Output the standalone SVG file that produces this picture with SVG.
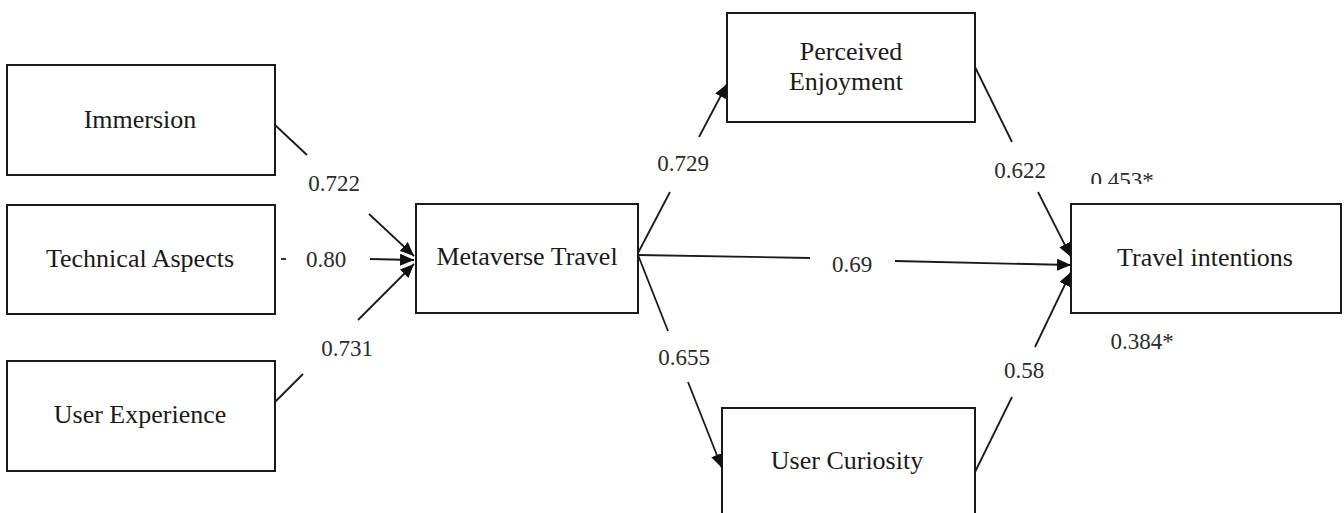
<svg xmlns="http://www.w3.org/2000/svg" width="1344" height="513" viewBox="0 0 1344 513">
<style>
.box{fill:#fff;stroke:#1a1a1a;stroke-width:2}
.nt{font-family:"Liberation Serif","Times New Roman",serif;font-size:26px;fill:#1a1a1a;text-anchor:middle}
.lb{font-family:"Liberation Serif","Times New Roman",serif;font-size:23px;fill:#2a2a2a;text-anchor:middle}
.ln{fill:none;stroke:#1a1a1a;stroke-width:1.8}
</style>
<defs>
<marker id="ah" viewBox="0 0 14 12" refX="14" refY="6" markerWidth="14" markerHeight="12" markerUnits="userSpaceOnUse" orient="auto">
<path d="M0,0 L14,6 L0,12 z" fill="#111"/>
</marker>
<clipPath id="cut"><rect x="1080" y="150" width="100" height="34"/></clipPath>
</defs>
<rect width="1344" height="513" fill="#fff"/>
<g id="immersion"><rect class="box" x="7" y="65" width="268" height="110"/><text class="nt" x="140" y="128">Immersion</text></g>
<g id="technical-aspects"><rect class="box" x="7" y="205" width="268" height="109"/><text class="nt" x="140" y="267">Technical Aspects</text></g>
<g id="user-experience"><rect class="box" x="7" y="361" width="268" height="110"/><text class="nt" x="140" y="423">User Experience</text></g>
<g id="metaverse-travel"><rect class="box" x="416" y="204" width="222" height="109"/><text class="nt" x="527" y="265">Metaverse Travel</text></g>
<g id="perceived-enjoyment"><rect class="box" x="727" y="13" width="248" height="109"/><text class="nt" x="851" y="60">Perceived</text><text class="nt" x="846" y="90">Enjoyment</text></g>
<g id="travel-intentions"><rect class="box" x="1071" y="204" width="270" height="109"/><text class="nt" x="1205" y="266">Travel intentions</text></g>
<g id="user-curiosity"><rect class="box" x="722" y="408" width="253" height="115"/><text class="nt" x="847" y="469">User Curiosity</text></g>
<g id="connectors">
<path class="ln" d="M275,125 L307,155"/><path class="ln" d="M369,214 L414,256" marker-end="url(#ah)"/>
<path class="ln" d="M281,259 L286,259"/><path class="ln" d="M370,259 L414,260" marker-end="url(#ah)"/>
<path class="ln" d="M275,402 L303,374"/><path class="ln" d="M358,320 L414,264" marker-end="url(#ah)"/>
<path class="ln" d="M638,253 L670,192"/><path class="ln" d="M699,137 L727,84" marker-end="url(#ah)"/>
<path class="ln" d="M638,255 L810,258"/><path class="ln" d="M895,261 L1071,265" marker-end="url(#ah)"/>
<path class="ln" d="M638,255 L668,331"/><path class="ln" d="M688,382 L722,468" marker-end="url(#ah)"/>
<path class="ln" d="M975,67 L1012,142"/><path class="ln" d="M1038,192 L1071,257" marker-end="url(#ah)"/>
<path class="ln" d="M975,472 L1012,397"/><path class="ln" d="M1035,347 L1071,272" marker-end="url(#ah)"/>
</g>
<g id="labels">
<text class="lb" x="334" y="191">0.722</text>
<text class="lb" x="326" y="267">0.80</text>
<text class="lb" x="347" y="356">0.731</text>
<text class="lb" x="683" y="171">0.729</text>
<text class="lb" x="852" y="272">0.69</text>
<text class="lb" x="684" y="365">0.655</text>
<text class="lb" x="1020" y="178">0.622</text>
<text class="lb" x="1122" y="188" clip-path="url(#cut)">0.453*</text>
<text class="lb" x="1024" y="378">0.58</text>
<text class="lb" x="1142" y="349">0.384*</text>
</g>
</svg>
